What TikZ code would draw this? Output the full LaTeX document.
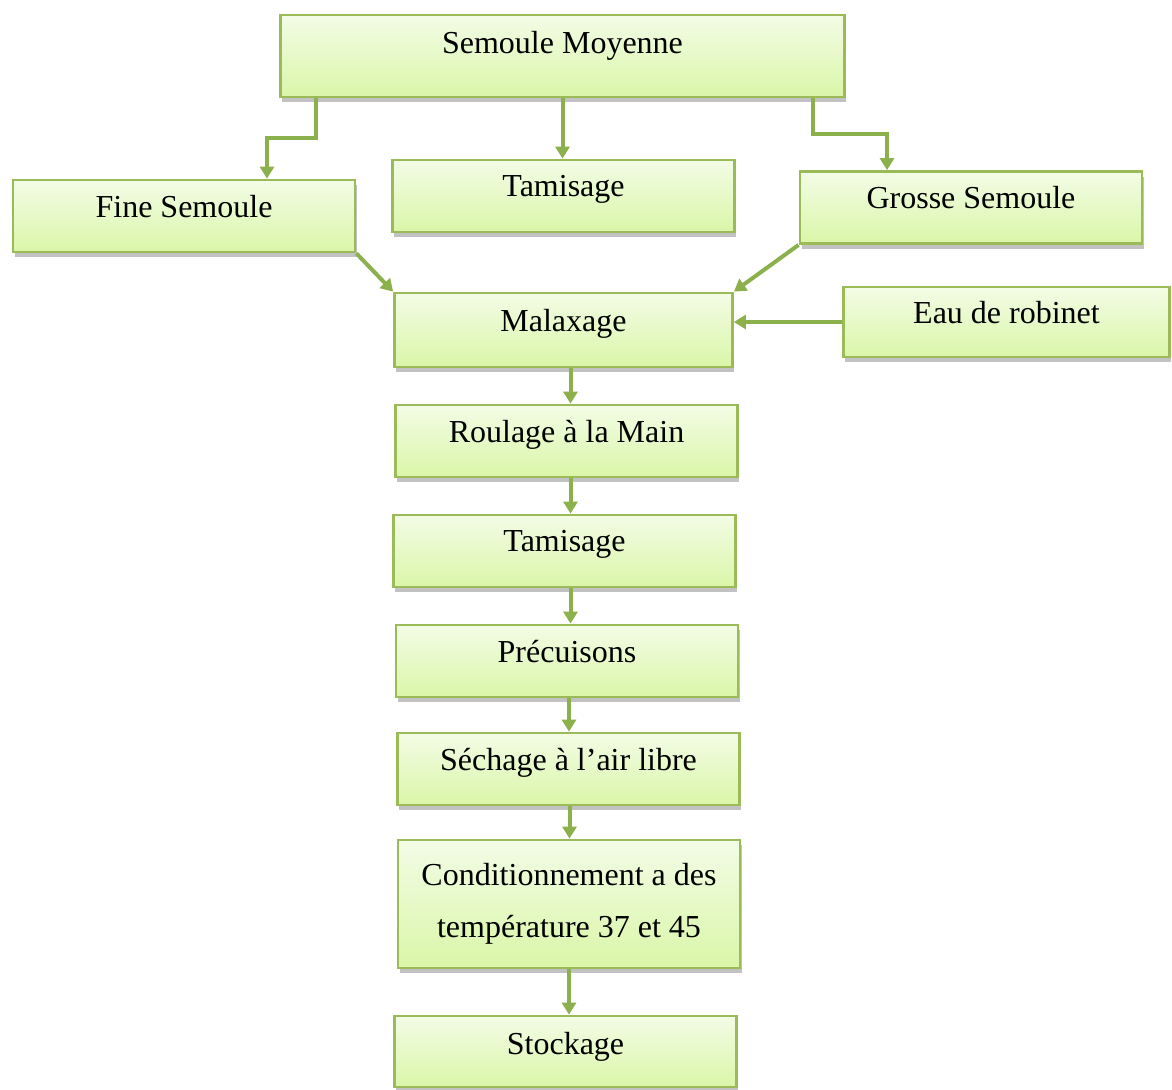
\documentclass[tikz,border=0pt]{standalone}
\usepackage{fontspec}
\setmainfont{Liberation Serif}
\usetikzlibrary{arrows.meta,shadows}
\definecolor{boxline}{HTML}{9BBB59}
\definecolor{arrline}{HTML}{8CB04C}
\definecolor{boxtop}{HTML}{F3FCE6}
\definecolor{boxbottom}{HTML}{DAF6A8}
\tikzset{
	etape/.style={draw=boxline, line width=1.4pt, top color=boxtop, bottom color=boxbottom,
		minimum width=171pt, minimum height=36pt, inner sep=0pt, align=center,
		font=\fontsize{16}{26}\selectfont, text depth=10pt,
		drop shadow={shadow xshift=0.8pt, shadow yshift=-2.5pt, opacity=0.4, fill=black!60}},
	fleche/.style={draw=arrline, line width=2pt, -{Triangle[width=7pt,length=6pt]}, arrline}
}

\begin{document}
\begin{tikzpicture}[x=0.5pt, y=-0.5pt]
		%%%%% START %%%%%
		\useasboundingbox (0, 0) rectangle (1172, 1089);
		
		\node[etape, minimum width=282pt, minimum height=41pt, text depth=14pt] (moyenne) at (562.5, 56) {Semoule Moyenne};
		
		\node[etape] (tamisageA) at (563.5, 196) {Tamisage};
		\node[etape] (fine) at (184, 216) {Fine Semoule};
		\node[etape] (grosse) at (971, 207.5) {Grosse Semoule};
		\node[etape, minimum width=163pt, minimum height=35pt] (eau) at (1006.5, 322) {Eau de robinet};
		
		\node[etape, minimum width=169pt, minimum height=37pt] (malaxage) at (563.5, 330) {Malaxage};
		\node[etape] (roulage) at (566.5, 441) {Roulage à la Main};
		\node[etape] (tamisageB) at (564.5, 551) {Tamisage};
		\node[etape] (precuisson) at (567, 661) {Précuisons};
		\node[etape] (sechage) at (568.5, 769) {Séchage à l’air libre};
		\node[etape, minimum height=64pt, text depth={}] (cond) at (569, 904) {Conditionnement a des\\température 37 et 45};
		\node[etape, minimum height=35.5pt, text depth=8pt] (stockage) at (565.5, 1051.5) {Stockage};
		
		% top branches
		\draw[fleche] ([xshift=18.5pt]moyenne.south west) -- ++(0, 40) -| ([xshift=41.5pt]fine.north);
		\draw[fleche] (moyenne.south) -- (moyenne.south |- tamisageA.north);
		\draw[fleche] ([xshift=-16.5pt]moyenne.south east) -- ++(0, 36) -| ([xshift=-42pt]grosse.north);
		
		% into malaxage
		\draw[fleche] (fine.south east) -- (malaxage.north west);
		\draw[fleche] (grosse.south west) -- (malaxage.north east);
		\draw[fleche] (eau.west) -- (eau.west -| malaxage.east);
		
		% main chain
		\draw[fleche] ([xshift=3.5pt]malaxage.south) -- ([xshift=3.5pt]malaxage.south |- roulage.north);
		\draw[fleche] ([xshift=2pt]roulage.south) -- ([xshift=2pt]roulage.south |- tamisageB.north);
		\draw[fleche] ([xshift=3pt]tamisageB.south) -- ([xshift=3pt]tamisageB.south |- precuisson.north);
		\draw[fleche] ([xshift=1pt]precuisson.south) -- ([xshift=1pt]precuisson.south |- sechage.north);
		\draw[fleche] ([xshift=0.5pt]sechage.south) -- ([xshift=0.5pt]sechage.south |- cond.north);
		\draw[fleche] (cond.south) -- (cond.south |- stockage.north);
		
		%%%%% END %%%%%
\end{tikzpicture}
\end{document}
